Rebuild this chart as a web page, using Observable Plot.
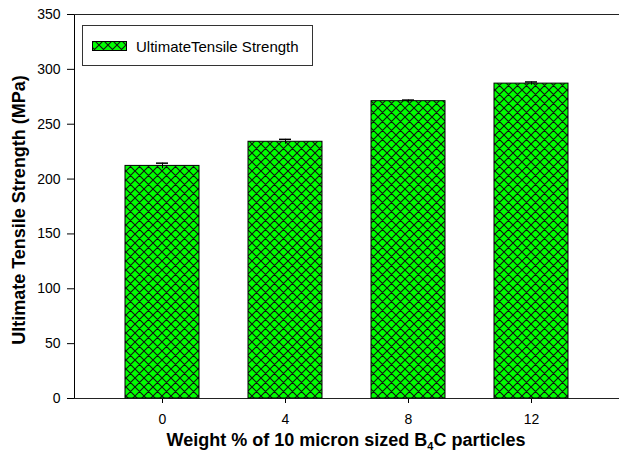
<!DOCTYPE html>
<html>
<head>
<meta charset="utf-8">
<script src="https://cdn.jsdelivr.net/npm/d3@7"></script>
<script src="https://cdn.jsdelivr.net/npm/@observablehq/plot@0.6"></script>
<style>
  html, body { margin: 0; padding: 0; background: #fff; }
  #defs { position: absolute; width: 0; height: 0; }
</style>
</head>
<body>
<svg id="defs" aria-hidden="true">
  <defs>
    <!-- green cross-hatch used for the bars and the legend swatch -->
    <pattern id="hatch" patternUnits="userSpaceOnUse" width="9" height="9">
      <rect width="9" height="9" fill="#00ff00"></rect>
      <path d="M0,0L9,9M9,0L0,9M-1,8L1,10M8,-1L10,1M-1,1L1,-1M8,10L10,8" stroke="#101010" stroke-width="1.1"></path>
    </pattern>
  </defs>
</svg>
<div id="chart"></div>
<script>
// Boron carbide content (wt %) and measured ultimate tensile strength (MPa)
const weights = ["0", "4", "8", "12"];
const strength = [212, 234, 271, 287];
const strengthErr = [2.5, 2.2, 1, 1.5];
const yTicks = [0, 50, 100, 150, 200, 250, 300, 350];
const seriesName = "UltimateTensile Strength";
const yTitle = "Ultimate Tensile Strength (MPa)";

const rows = weights.map((w, i) => ({
  weight: w,
  uts: strength[i],
  lo: strength[i] - strengthErr[i],
  hi: strength[i] + strengthErr[i]
}));

const W = 619, H = 454;
const font = "'Liberation Sans', Arial, sans-serif";

const chart = Plot.plot({
  width: W,
  height: H,
  marginTop: 14,
  marginBottom: 56,
  marginLeft: 74,
  marginRight: 0,
  style: { fontFamily: font, fontSize: "14px", color: "#000", background: "#fff" },
  x: {
    domain: weights,
    padding: 0.4,
    label: null,
    tickSize: 5,
    tickPadding: 11
  },
  y: {
    domain: [0, 350],
    ticks: yTicks,
    label: null,
    tickSize: 7,
    tickPadding: 7,
    line: true
  },
  marks: [
    Plot.ruleY([0, 350], { stroke: "#222" }),
    Plot.barY(rows, { x: "weight", y: "uts", fill: "url(#hatch)", stroke: "#000", strokeWidth: 1 }),
    Plot.ruleX(rows, { x: "weight", y1: "lo", y2: "hi", stroke: "#000", strokeWidth: 1 }),
    Plot.tickY(rows, { x: "weight", y: "hi", stroke: "#000", strokeWidth: 1.5, insetLeft: 31, insetRight: 31 })
  ]
});

document.getElementById("chart").appendChild(chart);

const svg = d3.select(chart);

// axis titles
svg.append("text")
  .attr("transform", "translate(19,210) rotate(-90)")
  .attr("text-anchor", "middle")
  .attr("dy", "0.35em")
  .attr("font-family", font)
  .attr("font-size", 18)
  .attr("font-weight", "bold")
  .attr("fill", "#000")
  .text(yTitle);

const xt = svg.append("text")
  .attr("x", 346)
  .attr("y", 446)
  .attr("text-anchor", "middle")
  .attr("font-family", font)
  .attr("font-size", 18)
  .attr("font-weight", "bold")
  .attr("fill", "#000");
xt.append("tspan").text("Weight % of 10 micron sized B");
xt.append("tspan").attr("font-size", 11).attr("dy", 4).text("4");
xt.append("tspan").attr("dy", -4).text("C particles");

// legend box
const lg = svg.append("g").attr("text-anchor", "start");
lg.append("rect")
  .attr("x", 82.5).attr("y", 25.5).attr("width", 230).attr("height", 40)
  .attr("fill", "#fff").attr("stroke", "#333").attr("stroke-width", 1);
lg.append("rect")
  .attr("x", 92.5).attr("y", 41.5).attr("width", 34).attr("height", 9)
  .attr("fill", "url(#hatch)").attr("stroke", "#000").attr("stroke-width", 1);
lg.append("text")
  .attr("x", 136).attr("y", 51.5)
  .attr("text-anchor", "start")
  .attr("font-family", font)
  .attr("font-size", 15)
  .attr("fill", "#000")
  .text(seriesName);
</script>
</body>
</html>
